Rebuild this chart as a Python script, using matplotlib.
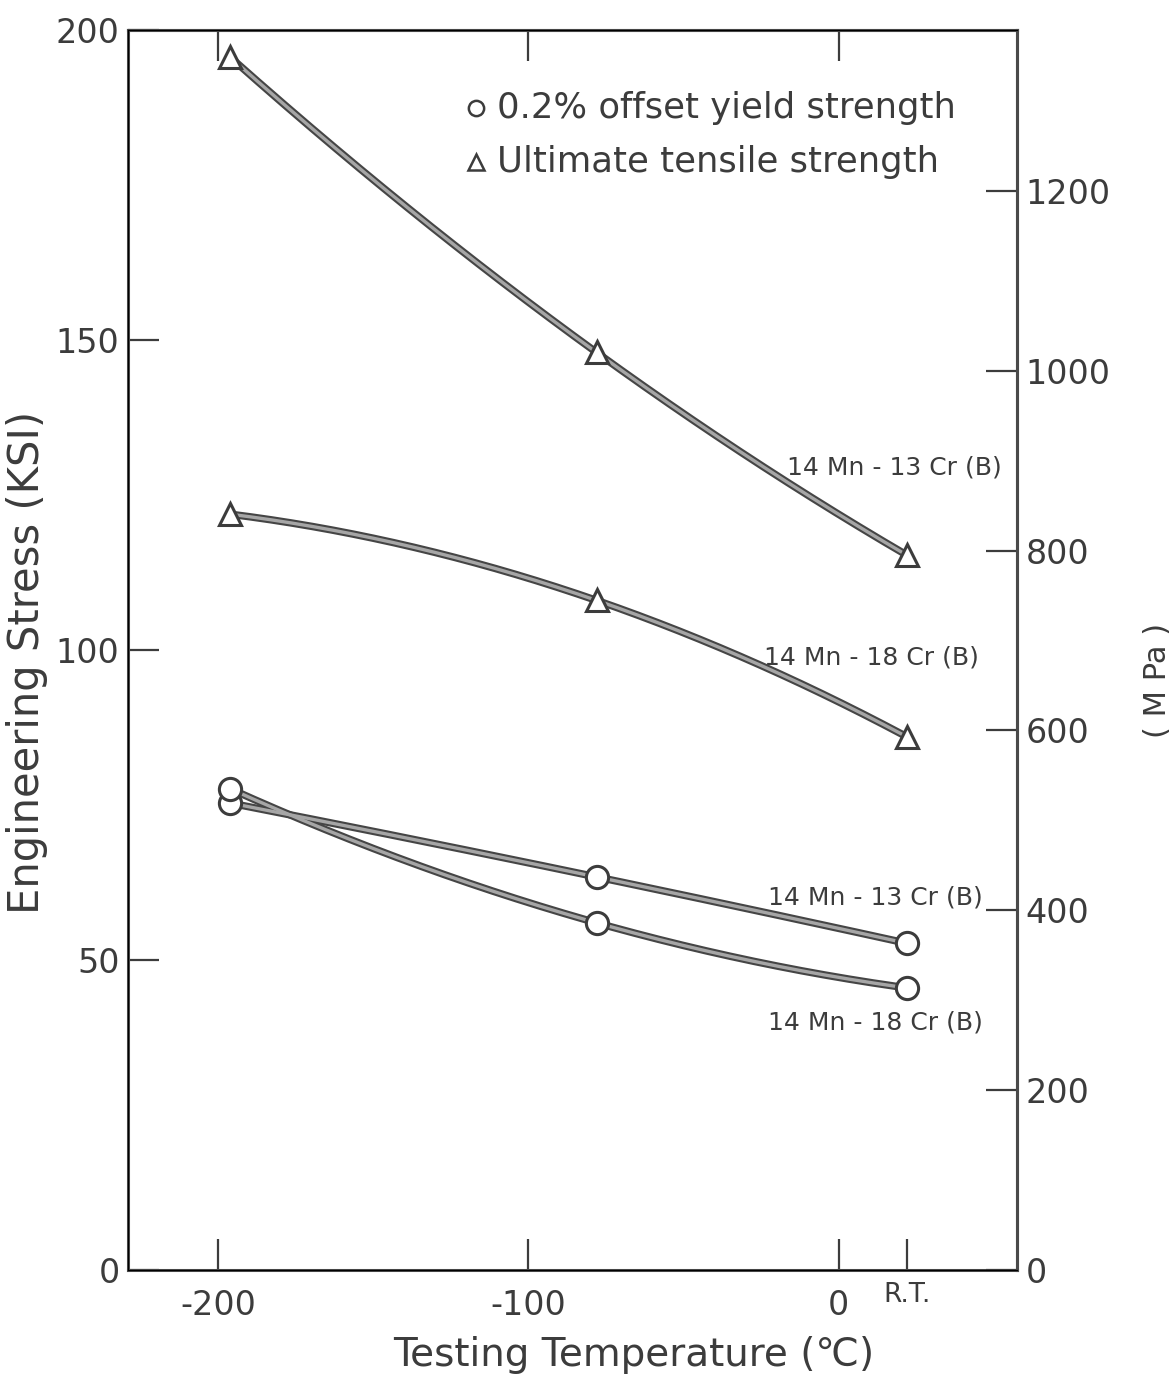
import numpy as np
import matplotlib
matplotlib.use("Agg")
import matplotlib.pyplot as plt

# temperatures (C); room temperature plotted at ~22 C
temps = [-196, -78, 22]
# ultimate tensile strength (KSI)
uts_13cr = [195.6, 148.0, 115.3]
uts_18cr = [121.9, 108.0, 86.0]
# 0.2% offset yield strength (KSI)
ys_13cr = [75.3, 63.4, 52.7]
ys_18cr = [77.6, 56.0, 45.5]

xtick_vals = [-200, -100, 0, 22]
xtick_labels = ["-200", "-100", "0", "R.T."]
top_ticks = [-200, -100, 0]
ksi_ticks = [0, 50, 100, 150, 200]
mpa_ticks = [0, 200, 400, 600, 800, 1000, 1200]
KSI_TO_MPA = 6.895

plt.rcParams['font.family'] = ['DejaVu Sans']
ink = '#3c3c3c'

fig = plt.figure(figsize=(11.76, 13.84), dpi=100)
ax = fig.add_axes([0.1088, 0.0824, 0.7560, 0.8959])


def draw_series(x, y, marker):
    coef = np.polyfit(x, y, 2)
    xs = np.linspace(x[0], x[-1], 200)
    ys = np.polyval(coef, xs)
    ax.plot(xs, ys, color='#454545', lw=5.4, solid_capstyle='round', zorder=2)
    ax.plot(xs, ys, color='#a6a6a6', lw=2.4, solid_capstyle='round', zorder=3)
    ax.plot(x, y, linestyle='none', marker=marker, ms=16, mfc='white',
            mec=ink, mew=2.2, zorder=4)


draw_series(temps, uts_13cr, '^')
draw_series(temps, uts_18cr, '^')
draw_series(temps, ys_13cr, 'o')
draw_series(temps, ys_18cr, 'o')

ax.set_xlim(-229, 57.5)
ax.set_ylim(0, 200)
ax.set_xticks(xtick_vals)
ax.set_xticklabels(xtick_labels)
ax.set_yticks(ksi_ticks)
ax.tick_params(axis='both', direction='in', length=22, width=1.6, color=ink,
               labelsize=24, labelcolor=ink, top=False)
ax.tick_params(axis='x', pad=14)
ax.tick_params(axis='y', pad=6)
for lab in ax.get_xticklabels():
    if lab.get_text() == "R.T.":
        lab.set_fontsize(19)
        lab.set_position((lab.get_position()[0], 0.006))
for s in ax.spines.values():
    s.set_linewidth(2.2)
    s.set_color('#4a4a4a')

top = ax.secondary_xaxis('top')
top.set_xticks(top_ticks)
top.tick_params(direction='in', length=22, width=1.6, color=ink, labeltop=False)
top.spines['top'].set_linewidth(2.2)
top.spines['top'].set_color('#4a4a4a')

ax.set_xlabel("Testing Temperature (\u2103)", fontsize=28, color=ink)
ax.xaxis.set_label_coords(0.569, -0.053)
ax.set_ylabel("Engineering Stress (KSI)", fontsize=30, color=ink)
ax.yaxis.set_label_coords(-0.09, 0.49)

ax2 = ax.twinx()
ax2.set_ylim(0, 200 * KSI_TO_MPA)
ax2.set_yticks(mpa_ticks)
ax2.tick_params(axis='y', direction='in', length=22, width=1.6, color=ink,
                labelsize=24, labelcolor=ink, pad=6)
ax2.spines['right'].set_linewidth(2.2)
ax2.spines['right'].set_color('#4a4a4a')
fig.text(1158 / 1176, 1 - 680 / 1384, "( M Pa )", fontsize=22, color=ink,
         rotation=90, ha='center', va='center')

# legend drawn as in the original figure
ax.plot([-117], [187.5], linestyle='none', marker='o', ms=11, mfc='white', mec=ink, mew=1.8)
ax.plot([-117], [178.7], linestyle='none', marker='^', ms=11, mfc='white', mec=ink, mew=1.8)
ax.text(-110, 187.5, "0.2% offset yield strength", fontsize=25.5, color=ink, va='center')
ax.text(-110, 178.7, "Ultimate tensile strength", fontsize=25.5, color=ink, va='center')

# curve labels
lab_kw = dict(fontsize=18, color=ink, ha='center', va='center')
ax.text(18, 129.5, "14 Mn - 13 Cr (B)", **lab_kw)
ax.text(10.5, 98.8, "14 Mn - 18 Cr (B)", **lab_kw)
ax.text(12, 60.1, "14 Mn - 13 Cr (B)", **lab_kw)
ax.text(12, 39.9, "14 Mn - 18 Cr (B)", **lab_kw)

fig.savefig("out.png", dpi=100)
